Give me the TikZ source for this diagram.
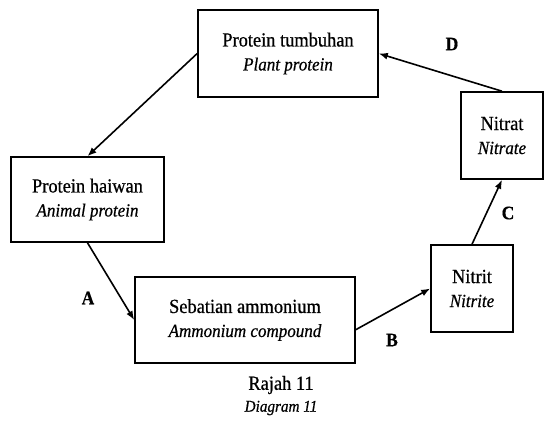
\documentclass[tikz,border=0pt]{standalone}
\usepackage{fontspec}
\setmainfont{Liberation Serif}[FakeStretch=0.92, FakeBold=0.6]
\usetikzlibrary{arrows.meta}

\newcommand{\inggeris}[1]{{\fontsize{18.5}{20}\selectfont\itshape #1}}

\tikzset{
  kotak/.style={draw, line width=1.6pt, align=center, inner sep=0pt,
    font=\fontsize{20}{24}\selectfont},
  panah/.style={-{Latex[length=9pt,width=7pt]}, line width=1.6pt},
  huruf/.style={font=\fontsize{19}{20}\selectfont\bfseries}
}

\begin{document}
\begin{tikzpicture}[x=1pt,y=-1pt]
            \useasboundingbox (0,0) rectangle (556,426);

            % Kotak "Protein tumbuhan"
            \node[kotak, minimum width=180pt, minimum height=87pt] (tumbuhan) at (288,53.5)
                {Protein tumbuhan\\\inggeris{Plant protein}};

            % Kotak "Protein haiwan"
            \node[kotak, minimum width=153pt, minimum height=85pt] (haiwan) at (87.5,199.5)
                {Protein haiwan\\\inggeris{Animal protein}};

            % Kotak "Sebatian ammonium"
            \node[kotak, minimum width=220pt, minimum height=86pt] (ammonium) at (245,320)
                {Sebatian ammonium\\\inggeris{Ammonium compound}};

            % Kotak "Nitrit"
            \node[kotak, minimum width=82pt, minimum height=87pt] (nitrit) at (472,288.5)
                {Nitrit\\\inggeris{Nitrite}};

            % Kotak "Nitrat"
            \node[kotak, minimum width=82pt, minimum height=87pt] (nitrat) at (502,135.5)
                {Nitrat\\\inggeris{Nitrate}};

            % Anak panah kitaran
            \draw[panah] (tumbuhan.west) -- (haiwan.north);
            \draw[panah] (haiwan.south) -- (ammonium.west);
            \draw[panah] (ammonium.-5) -- (nitrit.west);
            \draw[panah] (nitrit.north) -- (nitrat.south);
            \draw[panah] (nitrat.north) -- (tumbuhan.east);

            % Label A, B, C, D
            \node[huruf] (hurufA) at (88,298) {A};
            \node[huruf] (hurufB) at (392,340) {B};
            \node[huruf] (hurufC) at (508,213) {C};
            \node[huruf] (hurufD) at (452,44) {D};

            % Tajuk rajah
            \node[font=\fontsize{20}{20}\selectfont] (rajah) at (281,385) {Rajah 11};
            \node[font=\fontsize{16.5}{18}\selectfont\itshape] (diagram) at (281,408) {Diagram 11};
        \end{tikzpicture}
\end{document}
